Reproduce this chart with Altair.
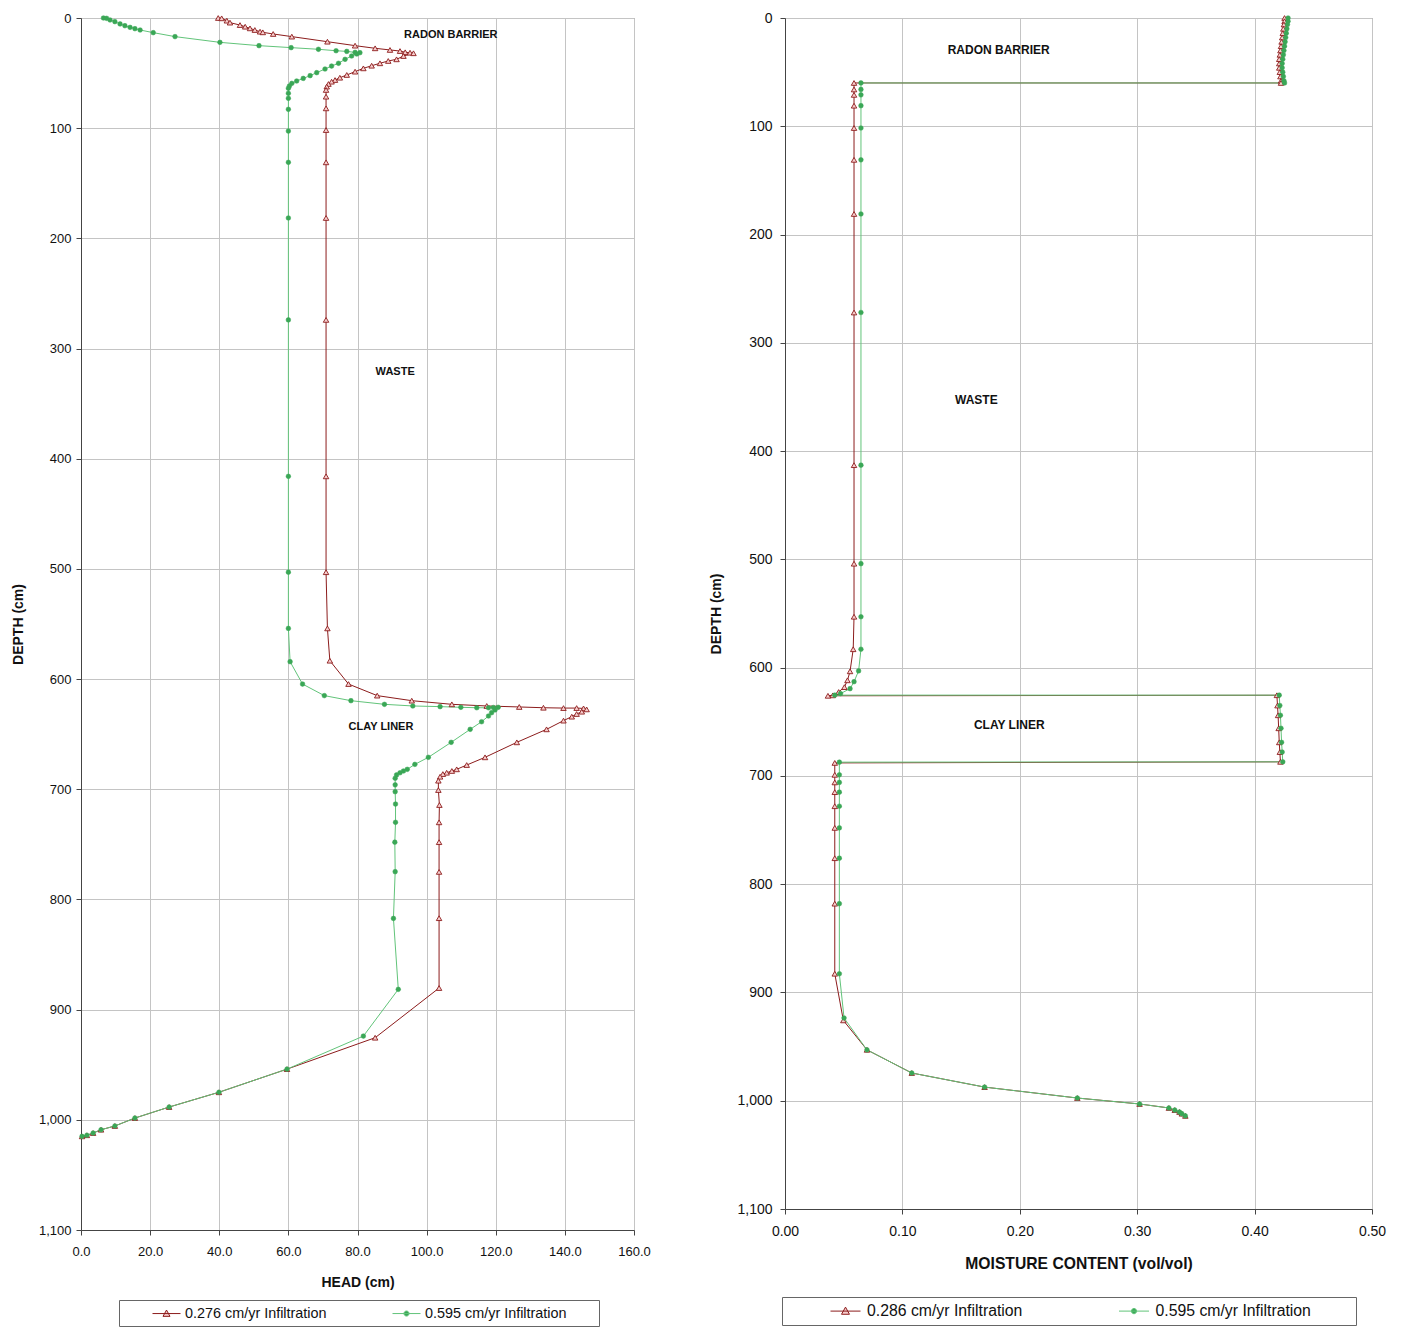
import altair as alt
import pandas as pd

# ---------------- LEFT PANEL: HEAD vs DEPTH ----------------
L_RED_LABEL = "0.276 cm/yr Infiltration"
L_GREEN_LABEL = "0.595 cm/yr Infiltration"

L_RED_DEPTH = [0, 0.3, 2.4, 4.2, 6.4, 7.9, 9.4, 10.9, 12.4, 13, 14.5, 16.9, 21.5, 25.1, 27.5, 29, 30, 31.1, 31.5, 32,
               34.5, 37.5, 39, 41.1, 43.3, 45.7, 48.7, 51.7, 54.2, 56.3, 57.8, 59.9, 62.3, 65.3, 71.4, 82, 101.7,
               131, 181.5, 274, 416, 503, 554, 583.3, 604.5, 615, 619.6, 622.9, 624.4, 625.3, 626, 626.3, 626.3, 626.6, 627.5,
               629.6, 631.7, 634.1, 637.7, 645.6, 657.4, 671, 678, 681.9, 683.4, 685, 686.2, 688.6, 692.2, 700.7, 714.3,
               730, 748, 775, 817, 880.4, 925.5, 954, 975, 988.4, 998.4, 1005.6, 1009, 1012, 1014, 1015]
L_RED_HEAD = [39.7, 40.7, 42.2, 43.1, 46.0, 47.5, 48.9, 50.3, 51.8, 52.6, 55.6, 61.0, 71.3, 79.3, 85.1, 89.4, 92.3, 93.8, 95.2, 96.2,
              93.3, 91.3, 88.9, 86.5, 84.1, 81.7, 79.3, 76.9, 74.9, 73.5, 72.5, 71.6, 71.1, 70.9, 70.9, 70.9, 70.9,
              70.9, 70.9, 70.9, 70.9, 70.9, 71.3, 72.0, 77.4, 85.7, 95.7, 107.3, 117.4, 126.8, 133.8, 139.6, 143.4, 145.4, 146.3,
              144.9, 143.4, 142.0, 139.6, 134.7, 126.1, 116.9, 111.6, 108.7, 107.3, 105.8, 104.7, 103.9, 103.4, 103.4, 103.7,
              103.6, 103.6, 103.6, 103.6, 103.6, 85.1, 59.6, 39.9, 25.5, 15.6, 9.8, 5.8, 3.5, 1.7, 0.3]

L_GREEN_DEPTH = [0, 0.3, 1.8, 3.3, 5.4, 7, 8.5, 9.7, 10.9, 13.3, 16.9, 22.1, 25.1, 26.9, 28.4, 29.7, 30.3, 31.2, 31.5,
                 32.7, 34.5, 37.5, 41.1, 43.6, 46.3, 49.6, 52.3, 54.8, 57.2, 59.3, 61.7, 63.8, 68.4, 72.9, 82.9, 102.6,
                 131, 181.5, 274, 416, 503, 554, 584.2, 604.5, 615, 619.6, 622.9, 624.4, 625, 625.6, 626, 626, 625.8, 625.6,
                 628, 630.5, 633.5, 638.7, 645.6, 657.4, 671, 677.4, 681.9, 683.4, 685, 687, 690, 696, 702.2, 713.4,
                 730, 748, 774.8, 817.2, 881.6, 924, 954, 975, 988.4, 998.4, 1005.6, 1009, 1012, 1014, 1015]
L_GREEN_HEAD = [6.5, 7.4, 8.4, 9.8, 11.3, 12.7, 14.2, 15.6, 17.1, 20.9, 27.2, 40.2, 51.5, 60.8, 68.7, 73.8, 76.9, 79.3, 80.7,
                79.8, 78.3, 76.4, 74.5, 72.5, 70.6, 68.2, 66.3, 64.3, 62.4, 61.0, 60.3, 60.0, 60.0, 60.0, 60.0, 60.0,
                60.0, 60.0, 60.0, 60.0, 60.0, 60.0, 60.5, 64.1, 70.4, 78.1, 87.8, 96.0, 103.9, 109.9, 114.5, 117.9, 119.3, 120.7,
                119.8, 118.8, 117.9, 115.9, 112.6, 107.1, 100.5, 96.6, 94.4, 93.3, 92.3, 91.3, 90.9, 90.9, 90.9, 91.0,
                91.0, 90.8, 90.9, 90.4, 91.8, 81.7, 59.6, 39.9, 25.5, 15.6, 9.8, 5.8, 3.5, 1.7, 0.3]

L_NOTES = ["RADON BARRIER", "WASTE", "CLAY LINER"]
L_NOTE_X = [107.0, 90.9, 86.8]
L_NOTE_DEPTH = [15.4, 321, 643.5]

# ---------------- RIGHT PANEL: MOISTURE CONTENT vs DEPTH ----------------
R_RED_LABEL = "0.286 cm/yr Infiltration"
R_GREEN_LABEL = "0.595 cm/yr Infiltration"

R_RED_DEPTH = [0, 3, 6, 10, 14, 18, 22, 26, 30, 34, 38, 42, 46, 50, 54, 58, 60,
               60, 66, 71, 81, 101.6, 131, 181, 272, 413, 504, 553, 583, 603.4, 611.7, 618, 622.5, 625.6, 626,
               625.5, 635, 644, 656, 669, 678, 687,
               688, 699, 706, 715, 728, 748, 776, 818, 882.7, 925.8, 953, 974.4, 987.4, 997.5, 1003, 1006.7, 1008.6, 1010.4, 1012, 1014]
R_RED_MC = [0.4255, 0.4255, 0.425, 0.4245, 0.424, 0.4235, 0.423, 0.4225, 0.422, 0.4215, 0.421, 0.421, 0.421, 0.4215, 0.422, 0.4225, 0.4225,
            0.0588, 0.0588, 0.0588, 0.0588, 0.0588, 0.0588, 0.0588, 0.0588, 0.0588, 0.0588, 0.0588, 0.0581, 0.0554, 0.0532, 0.0506, 0.0457, 0.0407, 0.0366,
            0.419, 0.4195, 0.420, 0.4205, 0.421, 0.4215, 0.422,
            0.0424, 0.0424, 0.0424, 0.0424, 0.0424, 0.0424, 0.0424, 0.0424, 0.0424, 0.0497, 0.0698, 0.108, 0.170, 0.249, 0.302, 0.327, 0.332, 0.336, 0.338, 0.341]

R_GREEN_DEPTH = [0, 3, 6, 10, 14, 18, 22, 26, 30, 34, 38, 42, 46, 50, 54, 58, 60,
                 60, 66, 71, 81, 101.6, 131, 181, 272, 413, 504, 553, 583, 603, 613, 619.4, 624, 625.4,
                 625.4, 635, 644, 656, 669, 678, 687,
                 687.3, 699, 706, 715, 728, 748, 776, 818, 882.7, 923.6, 953, 974.4, 987.4, 997.5, 1003, 1006.7, 1008.6, 1010.4, 1012, 1014]
R_GREEN_MC = [0.4285, 0.4285, 0.428, 0.4275, 0.427, 0.4265, 0.426, 0.4255, 0.425, 0.4245, 0.424, 0.4235, 0.4235, 0.424, 0.4245, 0.425, 0.4255,
              0.0647, 0.0647, 0.0647, 0.0647, 0.0647, 0.0647, 0.0647, 0.0647, 0.0647, 0.0647, 0.0647, 0.0647, 0.0627, 0.0588, 0.0554, 0.0473, 0.0424,
              0.421, 0.4215, 0.422, 0.4225, 0.423, 0.4235, 0.424,
              0.0463, 0.0463, 0.0463, 0.0463, 0.0463, 0.0463, 0.0463, 0.0463, 0.0463, 0.0503, 0.0698, 0.108, 0.170, 0.249, 0.302, 0.327, 0.332, 0.336, 0.338, 0.341]

R_NOTES = ["RADON BARRIER", "WASTE", "CLAY LINER"]
R_NOTE_X = [0.182, 0.163, 0.191]
R_NOTE_DEPTH = [29.6, 352.8, 653]

DEPTH_TICKS = list(range(0, 1101, 100))
HEAD_TICKS = [0, 20, 40, 60, 80, 100, 120, 140, 160]
MC_TICKS = [0.0, 0.1, 0.2, 0.3, 0.4, 0.5]

# ---------------- styling ----------------
FONT = "Liberation Sans"
RED_LINE = "#8c1c1c"
RED_FILL = "#f7cdcd"
GREEN = "#3aa756"
GREEN_LINE = "#62c47a"
GRID = "#c4c4c4"
NBSP = "\u00a0"
BLANK = "\u2800"


def sym_path(half_line, tri, circ_r):
    t = (f"M-{half_line},0L{half_line},0"
         f"M-{tri},{tri*0.8:.3f}L0,-{tri}L{tri},{tri*0.8:.3f}Z")
    r = circ_r
    c = (f"M-{half_line},0L{half_line},0"
         f"M{r:.3f},0A{r:.3f},{r:.3f},0,1,1,-{r:.3f},0A{r:.3f},{r:.3f},0,1,1,{r:.3f},0Z")
    return t, c


def panel(rx, rd, gx, gd, rlab, glab, notes, nx, nd, xdomain, xticks, xfmt, xtitle,
          width, height, leg, ax, note_size):
    red = pd.DataFrame({"x": rx, "depth": rd, "order": list(range(len(rx)))})
    green = pd.DataFrame({"x": gx, "depth": gd, "order": list(range(len(gx)))})
    xenc = alt.X("x:Q", scale=alt.Scale(domain=xdomain, nice=False, zero=False),
                 axis=alt.Axis(values=xticks, format=xfmt, title=xtitle, labelFontSize=ax["xlab"],
                               titleFontSize=ax["xtit"], labelPadding=ax["xlabpad"],
                               titlePadding=ax["xtitpad"], labelFlush=False))
    yenc = alt.Y("depth:Q", scale=alt.Scale(domain=[0, 1100], reverse=True, nice=False, zero=False),
                 axis=alt.Axis(values=DEPTH_TICKS, format=",d", title="DEPTH (cm)", labelFontSize=ax["ylab"],
                               titleFontSize=ax["ytit"], labelPadding=ax["ylabpad"],
                               titlePadding=ax["ytitpad"], labelFlush=False))
    red_line = alt.Chart(red).mark_line(color=RED_LINE, strokeWidth=1).encode(x=xenc, y=yenc, order="order:Q")
    green_line = alt.Chart(green).mark_line(color=GREEN_LINE, strokeWidth=1).encode(x=xenc, y=yenc, order="order:Q")
    red_pts = alt.Chart(red).mark_point(shape="triangle-up", filled=True, fill=RED_FILL, stroke=RED_LINE,
                                        strokeWidth=0.9, size=30, opacity=1).encode(x=xenc, y=yenc)
    green_pts = alt.Chart(green).mark_point(shape="circle", filled=True, fill=GREEN, stroke=GREEN,
                                            strokeWidth=0.5, size=22, opacity=1).encode(x=xenc, y=yenc)
    ndf = pd.DataFrame({"x": nx, "depth": nd, "text": notes})
    note_layer = alt.Chart(ndf).mark_text(font=FONT, fontWeight="bold", fontSize=note_size, color="#111",
                                          align="center", baseline="middle").encode(x=xenc, y=yenc, text="text:N")

    tri, circ = sym_path(leg["line"], leg["tri"], leg["circ"])
    dom = [rlab, glab]
    pad_txt = NBSP * leg["spaces"] + BLANK
    legend = alt.Legend(orient="none", legendX=leg["x"], legendY=leg["y"], direction="horizontal", columns=2,
                        title=None, labelFont=FONT, labelFontSize=leg["font"], labelColor="#111",
                        labelLimit=500, symbolSize=leg["size"], symbolStrokeWidth=1,
                        columnPadding=leg["colpad"], padding=leg["pad"], strokeColor="#666",
                        fillColor="white", labelOffset=leg["laboff"], symbolOffset=leg["symoff"],
                        labelExpr=f"datum.label == '{glab}' ? datum.label + '{pad_txt}' : datum.label")
    ldf = pd.DataFrame({"series": dom})
    legend_layer = alt.Chart(ldf).transform_filter("false").mark_point(filled=True, strokeWidth=1, opacity=1).encode(
        shape=alt.Shape("series:N", scale=alt.Scale(domain=dom, range=[tri, circ]), legend=legend),
        fill=alt.Fill("series:N", scale=alt.Scale(domain=dom, range=[RED_FILL, GREEN]), legend=legend),
        stroke=alt.Stroke("series:N", scale=alt.Scale(domain=dom, range=[RED_LINE, GREEN_LINE]), legend=legend),
    )
    return alt.layer(red_line, green_line, red_pts, green_pts, note_layer, legend_layer).properties(
        width=width, height=height)


left = panel(L_RED_HEAD, L_RED_DEPTH, L_GREEN_HEAD, L_GREEN_DEPTH, L_RED_LABEL, L_GREEN_LABEL,
             L_NOTES, L_NOTE_X, L_NOTE_DEPTH, [0, 160], HEAD_TICKS, ".1f", "HEAD (cm)", 553, 1212,
             dict(x=38, y=1282, font=14.4, size=196, line=2, tri=0.5, circ=0.36, laboff=11,
                  colpad=38, pad=6, symoff=34, spaces=4),
             dict(xlab=13, xtit=14, xlabpad=10, xtitpad=17, ylab=13, ytit=14, ylabpad=5, ytitpad=13), 11)

right = panel(R_RED_MC, R_RED_DEPTH, R_GREEN_MC, R_GREEN_DEPTH, R_RED_LABEL, R_GREEN_LABEL,
              R_NOTES, R_NOTE_X, R_NOTE_DEPTH, [0, 0.5], MC_TICKS, ".2f", "MOISTURE CONTENT (vol/vol)", 587, 1191,
              dict(x=-3, y=1279, font=15.8, size=225, line=2, tri=0.53, circ=0.35, laboff=13.5,
                   colpad=53.5, pad=6, symoff=49.5, spaces=6),
              dict(xlab=14, xtit=15.7, xlabpad=10, xtitpad=18, ylab=14, ytit=14, ylabpad=8, ytitpad=13), 12)

chart = alt.hconcat(left, right, spacing=58).resolve_scale(
    x="independent", y="independent", shape="independent", fill="independent", stroke="independent"
).resolve_legend(shape="independent", fill="independent", stroke="independent").configure(
    font=FONT, padding={"left": 2, "top": 2, "right": 5, "bottom": 5}
).configure_view(stroke="#8a8a8a", strokeWidth=1).configure_axis(
    labelFont=FONT, titleFont=FONT, titleFontWeight="bold", labelColor="#111", titleColor="#111",
    gridColor=GRID, gridWidth=1, domainColor="#444", tickColor="#444", tickSize=5, labelFontWeight="normal"
)

chart.save("out.html", embed_options={"renderer": "svg", "actions": False})
